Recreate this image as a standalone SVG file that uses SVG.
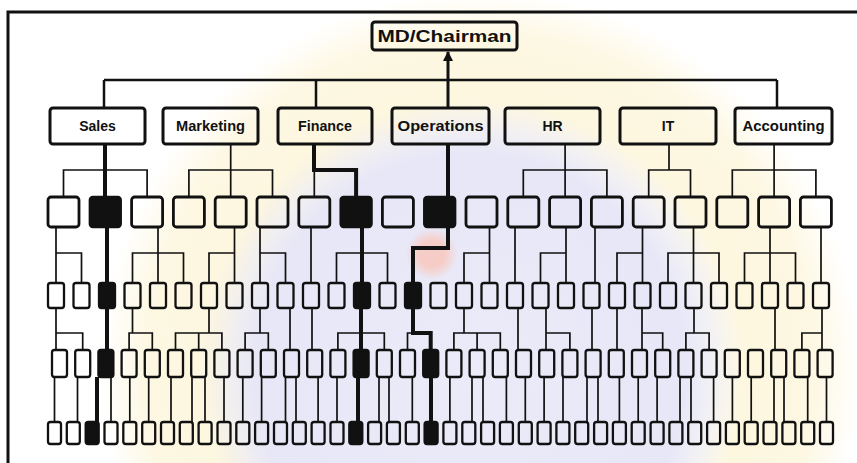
<svg xmlns="http://www.w3.org/2000/svg" width="857" height="463" viewBox="0 0 857 463">
<style>
.bg{stroke:none}
.n0{fill:none;stroke:#111;stroke-width:3}
.n1{fill:none;stroke:#111;stroke-width:2.8}
.n2{fill:none;stroke:#111;stroke-width:2.3}
.blk{fill:#111;stroke:#111;stroke-width:2.3}
.t{font-family:"Liberation Sans",Arial,sans-serif;font-weight:bold;font-size:14px;fill:#111;text-anchor:middle}
.thin{fill:none;stroke:#111;stroke-width:1.7}
.thick{fill:none;stroke:#111;stroke-width:4}
.frame{fill:none;stroke:#111;stroke-width:3}
</style>
<defs>
<marker id="arr" viewBox="0 0 10 10" refX="9" refY="5" markerWidth="10" markerHeight="11" markerUnits="userSpaceOnUse" orient="auto">
<path d="M0,0 L10,5 L0,10 z" fill="#111"/>
</marker>
<radialGradient id="gy" cx="480" cy="370" r="380" gradientUnits="userSpaceOnUse">
<stop offset="0.55" stop-color="#fdf6dc" stop-opacity="0"/>
<stop offset="0.7" stop-color="#fdf6dc" stop-opacity="0.9"/>
<stop offset="0.88" stop-color="#fdf6dc" stop-opacity="0.8"/>
<stop offset="1" stop-color="#fdf6dc" stop-opacity="0"/>
</radialGradient>
<radialGradient id="gl" cx="470" cy="370" r="270" gradientUnits="userSpaceOnUse">
<stop offset="0" stop-color="#e8e8f8" stop-opacity="0.9"/>
<stop offset="0.8" stop-color="#e4e4f6" stop-opacity="0.9"/>
<stop offset="1" stop-color="#e4e4f6" stop-opacity="0"/>
</radialGradient>
<radialGradient id="gp" cx="432" cy="254" r="26" gradientUnits="userSpaceOnUse">
<stop offset="0.5" stop-color="#f6cdc6" stop-opacity="1"/>
<stop offset="1" stop-color="#f6cdc6" stop-opacity="0"/>
</radialGradient>
</defs>
<rect width="857" height="463" fill="#fff"/>
<g id="watermark" class="bg">
<rect width="857" height="463" fill="url(#gy)"/>
<rect width="857" height="463" fill="url(#gl)"/>
<circle cx="432" cy="254" r="26" fill="url(#gp)"/>
</g>
<path class="frame" d="M8,463 V12 H857"/>
<g id="connectors">
<path class="thin" d="M104,80 H777 M104,80 V108 M316,80 V108 M777,80 V108" style="stroke-width:2.5"/>
<path class="thick" d="M448,108 V52" style="stroke-width:3" marker-end="url(#arr)"/>
<path class="thin" d="M63.5,197 V170 H147.1 V197 M230.7,144 V197 M188.9,197 V170 H272.5 V197 M314.3,170 V197 M565.1,144 V197 M523.3,197 V170 H606.9 V197 M669,144 V170 M648.7,197 V170 H690.5 V197 M774.1,144 V197 M732.3,197 V170 H815.9 V197"/>
<path class="thick" d="M105,144 V197 M314,144 V170 H356.1 V197 M448,144 V197"/>
<path class="thin" d="M56,227 V283 M56,253 H81.5 V283 M158,227 V283 M132.5,283 V253 H183.5 V283 M234.5,227 V283 M209,283 V253 H234.5 M260,227 V283 M260,253 H285.5 V283 M311,227 V283 M336.5,283 V253 H387.5 V283 M489.5,227 V283 M489.5,253 H464 V283 M515,227 V283 M566,227 V283 M566,253 H540.5 V283 M595,227 V283 M642.5,227 V283 M642.5,253 H617 V283 M693.5,227 V283 M668,283 V253 H719 V283 M770,227 V283 M744.5,283 V253 H795.5 V283 M821,227 V283"/>
<path class="thick" d="M107,227 V283 M362,227 V283 M448,227 V248 H413 V283"/>
<path class="thin" d="M56,308 V350 M56,333 H82.7 V350 M132.5,308 V333 M129.1,350 V333 H152.3 V350 M209,308 V333 M175.5,350 V333 H221.9 V350 M198.7,333 V350 M260,308 V333 M245.1,350 V333 H268.3 V350 M290,308 V350 M312,308 V350 M337.9,350 V333 H384.3 V350 M413,333 H407.5 V350 M464,308 V333 M453.9,350 V333 H500.3 V350 M477.1,333 V350 M518,308 V350 M546,308 V350 M546,333 H569.9 V350 M592,308 V350 M617,308 V350 M642,308 V350 M642,333 H662.7 V350 M694,308 V333 M685.9,350 V333 H709.1 V350 M775,308 V350 M822,308 V350 M822,333 H801.9 V350"/>
<path class="thick" d="M107,308 V350 M361,308 V350 M413,308 V333 H430.7 V350"/>
<path class="thin" d="M54.5,377V422 M77.5,377V422 M111,377V422 M129.8,377V422 M148.7,377V422 M171,377V422 M192,377V422 M205,377V422 M224,377V422 M242.8,377V422 M261.6,377V422 M285.5,377V422 M296,377V422 M318.1,377V422 M337,377V422 M379,377V422 M389,377V422 M412.3,377V422 M449.9,377V422 M472,377V422 M483,377V422 M506.4,377V422 M525.3,377V422 M544.1,377V422 M563,377V422 M587,377V422 M598,377V422 M619.4,377V422 M638.2,377V422 M657.1,377V422 M680,377V422 M691,377V422 M713.6,377V422 M732.4,377V422 M751.2,377V422 M774,377V422 M784,377V422 M807.7,377V422 M826.5,377V422"/>
<path class="thick" d="M97,377V422 M358,377V422 M431,377V422"/>
</g>
<g id="md"><rect class="n0" x="372" y="22" width="145" height="28" rx="3"/><text class="t" x="444.5" y="42" style="font-size:16px" textLength="134" lengthAdjust="spacingAndGlyphs">MD/Chairman</text></g>
<g id="sales"><rect class="n0" x="50" y="108" width="95" height="36" rx="3"/><text class="t" x="97.5" y="131">Sales</text></g>
<g id="marketing"><rect class="n0" x="163" y="108" width="95" height="36" rx="3"/><text class="t" x="210.5" y="131" textLength="69" lengthAdjust="spacingAndGlyphs">Marketing</text></g>
<g id="finance"><rect class="n0" x="278" y="108" width="94" height="36" rx="3"/><text class="t" x="325" y="131" textLength="54" lengthAdjust="spacingAndGlyphs">Finance</text></g>
<g id="operations"><rect class="n0" x="392" y="108" width="97" height="36" rx="3"/><text class="t" x="440.5" y="131" textLength="86" lengthAdjust="spacingAndGlyphs">Operations</text></g>
<g id="hr"><rect class="n0" x="505" y="108" width="95" height="36" rx="3"/><text class="t" x="552.5" y="131">HR</text></g>
<g id="it"><rect class="n0" x="620" y="108" width="96" height="36" rx="3"/><text class="t" x="668" y="131">IT</text></g>
<g id="accounting"><rect class="n0" x="735" y="108" width="97" height="36" rx="3"/><text class="t" x="783.5" y="131" textLength="82" lengthAdjust="spacingAndGlyphs">Accounting</text></g>
<g id="r1-1"><rect class="n1" x="48" y="197" width="31" height="30" rx="3"/></g>
<g id="r1-2"><rect class="blk" x="89.8" y="197" width="31" height="30" rx="3"/></g>
<g id="r1-3"><rect class="n1" x="131.6" y="197" width="31" height="30" rx="3"/></g>
<g id="r1-4"><rect class="n1" x="173.4" y="197" width="31" height="30" rx="3"/></g>
<g id="r1-5"><rect class="n1" x="215.2" y="197" width="31" height="30" rx="3"/></g>
<g id="r1-6"><rect class="n1" x="257" y="197" width="31" height="30" rx="3"/></g>
<g id="r1-7"><rect class="n1" x="298.8" y="197" width="31" height="30" rx="3"/></g>
<g id="r1-8"><rect class="blk" x="340.6" y="197" width="31" height="30" rx="3"/></g>
<g id="r1-9"><rect class="n1" x="382.4" y="197" width="31" height="30" rx="3"/></g>
<g id="r1-10"><rect class="blk" x="424.2" y="197" width="31" height="30" rx="3"/></g>
<g id="r1-11"><rect class="n1" x="466" y="197" width="31" height="30" rx="3"/></g>
<g id="r1-12"><rect class="n1" x="507.8" y="197" width="31" height="30" rx="3"/></g>
<g id="r1-13"><rect class="n1" x="549.6" y="197" width="31" height="30" rx="3"/></g>
<g id="r1-14"><rect class="n1" x="591.4" y="197" width="31" height="30" rx="3"/></g>
<g id="r1-15"><rect class="n1" x="633.2" y="197" width="31" height="30" rx="3"/></g>
<g id="r1-16"><rect class="n1" x="675" y="197" width="31" height="30" rx="3"/></g>
<g id="r1-17"><rect class="n1" x="716.8" y="197" width="31" height="30" rx="3"/></g>
<g id="r1-18"><rect class="n1" x="758.6" y="197" width="31" height="30" rx="3"/></g>
<g id="r1-19"><rect class="n1" x="800.4" y="197" width="31" height="30" rx="3"/></g>
<g id="r2-1"><rect class="n2" x="48" y="283" width="16" height="25" rx="2.5"/></g>
<g id="r2-2"><rect class="n2" x="73.5" y="283" width="16" height="25" rx="2.5"/></g>
<g id="r2-3"><rect class="blk" x="99" y="283" width="16" height="25" rx="2.5"/></g>
<g id="r2-4"><rect class="n2" x="124.5" y="283" width="16" height="25" rx="2.5"/></g>
<g id="r2-5"><rect class="n2" x="150" y="283" width="16" height="25" rx="2.5"/></g>
<g id="r2-6"><rect class="n2" x="175.5" y="283" width="16" height="25" rx="2.5"/></g>
<g id="r2-7"><rect class="n2" x="201" y="283" width="16" height="25" rx="2.5"/></g>
<g id="r2-8"><rect class="n2" x="226.5" y="283" width="16" height="25" rx="2.5"/></g>
<g id="r2-9"><rect class="n2" x="252" y="283" width="16" height="25" rx="2.5"/></g>
<g id="r2-10"><rect class="n2" x="277.5" y="283" width="16" height="25" rx="2.5"/></g>
<g id="r2-11"><rect class="n2" x="303" y="283" width="16" height="25" rx="2.5"/></g>
<g id="r2-12"><rect class="n2" x="328.5" y="283" width="16" height="25" rx="2.5"/></g>
<g id="r2-13"><rect class="blk" x="354" y="283" width="16" height="25" rx="2.5"/></g>
<g id="r2-14"><rect class="n2" x="379.5" y="283" width="16" height="25" rx="2.5"/></g>
<g id="r2-15"><rect class="blk" x="405" y="283" width="16" height="25" rx="2.5"/></g>
<g id="r2-16"><rect class="n2" x="430.5" y="283" width="16" height="25" rx="2.5"/></g>
<g id="r2-17"><rect class="n2" x="456" y="283" width="16" height="25" rx="2.5"/></g>
<g id="r2-18"><rect class="n2" x="481.5" y="283" width="16" height="25" rx="2.5"/></g>
<g id="r2-19"><rect class="n2" x="507" y="283" width="16" height="25" rx="2.5"/></g>
<g id="r2-20"><rect class="n2" x="532.5" y="283" width="16" height="25" rx="2.5"/></g>
<g id="r2-21"><rect class="n2" x="558" y="283" width="16" height="25" rx="2.5"/></g>
<g id="r2-22"><rect class="n2" x="583.5" y="283" width="16" height="25" rx="2.5"/></g>
<g id="r2-23"><rect class="n2" x="609" y="283" width="16" height="25" rx="2.5"/></g>
<g id="r2-24"><rect class="n2" x="634.5" y="283" width="16" height="25" rx="2.5"/></g>
<g id="r2-25"><rect class="n2" x="660" y="283" width="16" height="25" rx="2.5"/></g>
<g id="r2-26"><rect class="n2" x="685.5" y="283" width="16" height="25" rx="2.5"/></g>
<g id="r2-27"><rect class="n2" x="711" y="283" width="16" height="25" rx="2.5"/></g>
<g id="r2-28"><rect class="n2" x="736.5" y="283" width="16" height="25" rx="2.5"/></g>
<g id="r2-29"><rect class="n2" x="762" y="283" width="16" height="25" rx="2.5"/></g>
<g id="r2-30"><rect class="n2" x="787.5" y="283" width="16" height="25" rx="2.5"/></g>
<g id="r2-31"><rect class="n2" x="813" y="283" width="16" height="25" rx="2.5"/></g>
<g id="r3-1"><rect class="n2" x="52" y="350" width="15" height="27" rx="2.5"/></g>
<g id="r3-2"><rect class="n2" x="75.2" y="350" width="15" height="27" rx="2.5"/></g>
<g id="r3-3"><rect class="blk" x="98.4" y="350" width="15" height="27" rx="2.5"/></g>
<g id="r3-4"><rect class="n2" x="121.6" y="350" width="15" height="27" rx="2.5"/></g>
<g id="r3-5"><rect class="n2" x="144.8" y="350" width="15" height="27" rx="2.5"/></g>
<g id="r3-6"><rect class="n2" x="168" y="350" width="15" height="27" rx="2.5"/></g>
<g id="r3-7"><rect class="n2" x="191.2" y="350" width="15" height="27" rx="2.5"/></g>
<g id="r3-8"><rect class="n2" x="214.4" y="350" width="15" height="27" rx="2.5"/></g>
<g id="r3-9"><rect class="n2" x="237.6" y="350" width="15" height="27" rx="2.5"/></g>
<g id="r3-10"><rect class="n2" x="260.8" y="350" width="15" height="27" rx="2.5"/></g>
<g id="r3-11"><rect class="n2" x="284" y="350" width="15" height="27" rx="2.5"/></g>
<g id="r3-12"><rect class="n2" x="307.2" y="350" width="15" height="27" rx="2.5"/></g>
<g id="r3-13"><rect class="n2" x="330.4" y="350" width="15" height="27" rx="2.5"/></g>
<g id="r3-14"><rect class="blk" x="353.6" y="350" width="15" height="27" rx="2.5"/></g>
<g id="r3-15"><rect class="n2" x="376.8" y="350" width="15" height="27" rx="2.5"/></g>
<g id="r3-16"><rect class="n2" x="400" y="350" width="15" height="27" rx="2.5"/></g>
<g id="r3-17"><rect class="blk" x="423.2" y="350" width="15" height="27" rx="2.5"/></g>
<g id="r3-18"><rect class="n2" x="446.4" y="350" width="15" height="27" rx="2.5"/></g>
<g id="r3-19"><rect class="n2" x="469.6" y="350" width="15" height="27" rx="2.5"/></g>
<g id="r3-20"><rect class="n2" x="492.8" y="350" width="15" height="27" rx="2.5"/></g>
<g id="r3-21"><rect class="n2" x="516" y="350" width="15" height="27" rx="2.5"/></g>
<g id="r3-22"><rect class="n2" x="539.2" y="350" width="15" height="27" rx="2.5"/></g>
<g id="r3-23"><rect class="n2" x="562.4" y="350" width="15" height="27" rx="2.5"/></g>
<g id="r3-24"><rect class="n2" x="585.6" y="350" width="15" height="27" rx="2.5"/></g>
<g id="r3-25"><rect class="n2" x="608.8" y="350" width="15" height="27" rx="2.5"/></g>
<g id="r3-26"><rect class="n2" x="632" y="350" width="15" height="27" rx="2.5"/></g>
<g id="r3-27"><rect class="n2" x="655.2" y="350" width="15" height="27" rx="2.5"/></g>
<g id="r3-28"><rect class="n2" x="678.4" y="350" width="15" height="27" rx="2.5"/></g>
<g id="r3-29"><rect class="n2" x="701.6" y="350" width="15" height="27" rx="2.5"/></g>
<g id="r3-30"><rect class="n2" x="724.8" y="350" width="15" height="27" rx="2.5"/></g>
<g id="r3-31"><rect class="n2" x="748" y="350" width="15" height="27" rx="2.5"/></g>
<g id="r3-32"><rect class="n2" x="771.2" y="350" width="15" height="27" rx="2.5"/></g>
<g id="r3-33"><rect class="n2" x="794.4" y="350" width="15" height="27" rx="2.5"/></g>
<g id="r3-34"><rect class="n2" x="817.6" y="350" width="15" height="27" rx="2.5"/></g>
<g id="r4-1"><rect class="n2" x="48" y="422" width="13" height="22" rx="2.5"/></g>
<g id="r4-2"><rect class="n2" x="66.8" y="422" width="13" height="22" rx="2.5"/></g>
<g id="r4-3"><rect class="blk" x="85.7" y="422" width="13" height="22" rx="2.5"/></g>
<g id="r4-4"><rect class="n2" x="104.5" y="422" width="13" height="22" rx="2.5"/></g>
<g id="r4-5"><rect class="n2" x="123.3" y="422" width="13" height="22" rx="2.5"/></g>
<g id="r4-6"><rect class="n2" x="142.2" y="422" width="13" height="22" rx="2.5"/></g>
<g id="r4-7"><rect class="n2" x="161" y="422" width="13" height="22" rx="2.5"/></g>
<g id="r4-8"><rect class="n2" x="179.8" y="422" width="13" height="22" rx="2.5"/></g>
<g id="r4-9"><rect class="n2" x="198.6" y="422" width="13" height="22" rx="2.5"/></g>
<g id="r4-10"><rect class="n2" x="217.5" y="422" width="13" height="22" rx="2.5"/></g>
<g id="r4-11"><rect class="n2" x="236.3" y="422" width="13" height="22" rx="2.5"/></g>
<g id="r4-12"><rect class="n2" x="255.1" y="422" width="13" height="22" rx="2.5"/></g>
<g id="r4-13"><rect class="n2" x="274" y="422" width="13" height="22" rx="2.5"/></g>
<g id="r4-14"><rect class="n2" x="292.8" y="422" width="13" height="22" rx="2.5"/></g>
<g id="r4-15"><rect class="n2" x="311.6" y="422" width="13" height="22" rx="2.5"/></g>
<g id="r4-16"><rect class="n2" x="330.5" y="422" width="13" height="22" rx="2.5"/></g>
<g id="r4-17"><rect class="blk" x="349.3" y="422" width="13" height="22" rx="2.5"/></g>
<g id="r4-18"><rect class="n2" x="368.1" y="422" width="13" height="22" rx="2.5"/></g>
<g id="r4-19"><rect class="n2" x="386.9" y="422" width="13" height="22" rx="2.5"/></g>
<g id="r4-20"><rect class="n2" x="405.8" y="422" width="13" height="22" rx="2.5"/></g>
<g id="r4-21"><rect class="blk" x="424.6" y="422" width="13" height="22" rx="2.5"/></g>
<g id="r4-22"><rect class="n2" x="443.4" y="422" width="13" height="22" rx="2.5"/></g>
<g id="r4-23"><rect class="n2" x="462.3" y="422" width="13" height="22" rx="2.5"/></g>
<g id="r4-24"><rect class="n2" x="481.1" y="422" width="13" height="22" rx="2.5"/></g>
<g id="r4-25"><rect class="n2" x="499.9" y="422" width="13" height="22" rx="2.5"/></g>
<g id="r4-26"><rect class="n2" x="518.8" y="422" width="13" height="22" rx="2.5"/></g>
<g id="r4-27"><rect class="n2" x="537.6" y="422" width="13" height="22" rx="2.5"/></g>
<g id="r4-28"><rect class="n2" x="556.4" y="422" width="13" height="22" rx="2.5"/></g>
<g id="r4-29"><rect class="n2" x="575.2" y="422" width="13" height="22" rx="2.5"/></g>
<g id="r4-30"><rect class="n2" x="594.1" y="422" width="13" height="22" rx="2.5"/></g>
<g id="r4-31"><rect class="n2" x="612.9" y="422" width="13" height="22" rx="2.5"/></g>
<g id="r4-32"><rect class="n2" x="631.7" y="422" width="13" height="22" rx="2.5"/></g>
<g id="r4-33"><rect class="n2" x="650.6" y="422" width="13" height="22" rx="2.5"/></g>
<g id="r4-34"><rect class="n2" x="669.4" y="422" width="13" height="22" rx="2.5"/></g>
<g id="r4-35"><rect class="n2" x="688.2" y="422" width="13" height="22" rx="2.5"/></g>
<g id="r4-36"><rect class="n2" x="707.1" y="422" width="13" height="22" rx="2.5"/></g>
<g id="r4-37"><rect class="n2" x="725.9" y="422" width="13" height="22" rx="2.5"/></g>
<g id="r4-38"><rect class="n2" x="744.7" y="422" width="13" height="22" rx="2.5"/></g>
<g id="r4-39"><rect class="n2" x="763.5" y="422" width="13" height="22" rx="2.5"/></g>
<g id="r4-40"><rect class="n2" x="782.4" y="422" width="13" height="22" rx="2.5"/></g>
<g id="r4-41"><rect class="n2" x="801.2" y="422" width="13" height="22" rx="2.5"/></g>
<g id="r4-42"><rect class="n2" x="820" y="422" width="13" height="22" rx="2.5"/></g>
</svg>
